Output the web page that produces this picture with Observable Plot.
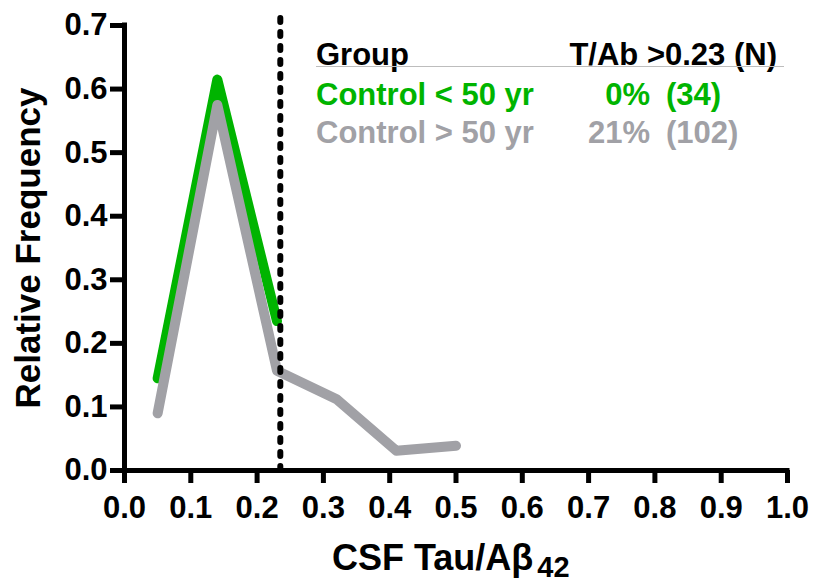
<!DOCTYPE html>
<html><head><meta charset="utf-8">
<script src="https://cdn.jsdelivr.net/npm/d3@7"></script>
<script src="https://cdn.jsdelivr.net/npm/@observablehq/plot@0.6"></script>
<style>
body{margin:0;background:#fff;}
#wrap{position:relative;width:817px;height:584px;overflow:hidden;font-family:"Liberation Sans",Arial,sans-serif;font-weight:bold;}
.t{position:absolute;white-space:nowrap;line-height:1;}
</style></head><body><div id="wrap"></div>
<script>
// ---- data ----
const binCenters = [0.05, 0.14, 0.23, 0.32, 0.41, 0.50];
const youngFreq = [0.145, 0.615, 0.235];
const oldFreq = [0.09, 0.575, 0.157, 0.112, 0.031, 0.039];
const cutoff = 0.235;
const groups = ["Control < 50 yr", "Control > 50 yr"];
const pctAbove = ["0%", "21%"];
const counts = ["(34)", "(102)"];
const colors = ["#00b400", "#a1a1a6"];
const xTicks = [0, 0.1, 0.2, 0.3, 0.4, 0.5, 0.6, 0.7, 0.8, 0.9, 1.0];
const yTicks = [0, 0.1, 0.2, 0.3, 0.4, 0.5, 0.6, 0.7];
const yTitle = "Relative Frequency";
const headers = ["Group", "T/Ab >0.23 (N)"];

const young = youngFreq.map((f, i) => ({x: binCenters[i], y: f}));
const old = oldFreq.map((f, i) => ({x: binCenters[i], y: f}));

const fmt = d3.format(".1f");
const chart = Plot.plot({
  width: 817, height: 584,
  marginLeft: 124, marginRight: 30, marginTop: 25, marginBottom: 114,
  x: {domain: [0, 1]},
  y: {domain: [0, 0.7]},
  style: {fontFamily: "Liberation Sans, Arial, sans-serif", fontWeight: "bold", color: "black", background: "white"},
  marks: [
    Plot.line(young, {x: "x", y: "y", stroke: colors[0], strokeWidth: 10}),
    Plot.line(old, {x: "x", y: "y", stroke: colors[1], strokeWidth: 10}),
    Plot.ruleX([cutoff], {y1: 0, y2: 0.715, stroke: "black", strokeWidth: 6, strokeDasharray: "4,10", strokeLinecap: "round"}),
    Plot.axisX({ticks: xTicks, tickFormat: fmt, tickSize: 13, tickPadding: 12, strokeWidth: 5, fontSize: 31, fontWeight: "bold", label: null}),
    Plot.axisY({ticks: yTicks, tickFormat: fmt, tickSize: 14, tickPadding: 3, strokeWidth: 5, fontSize: 31, fontWeight: "bold", label: null}),
    Plot.ruleY([0], {strokeWidth: 5, strokeLinecap: "square"}),
    Plot.ruleX([0], {strokeWidth: 5, strokeLinecap: "square"}),
    Plot.text([yTitle], {frameAnchor: "left", textAnchor: "middle", rotate: -90, dx: -96, fontSize: 35, fontWeight: "bold"})
  ]
});
const wrap = document.getElementById("wrap");
wrap.appendChild(chart);
chart.style.position = "absolute"; chart.style.left = "0"; chart.style.top = "0";

function addText(html, css) {
  const d = document.createElement("div");
  d.className = "t";
  d.innerHTML = html;
  Object.assign(d.style, css);
  wrap.appendChild(d);
  return d;
}
// x-axis title with subscript
addText('CSF Tau/A&beta;<span style="font-size:29px;line-height:1;position:relative;top:7px;margin-left:4px">42</span>',
  {left: "332px", top: "540px", fontSize: "36px", color: "black"});

// legend table
const lf = "31px";
addText(headers[0], {left: "316px", top: "39px", fontSize: lf, color: "black"});
addText(headers[1], {right: (817 - 777) + "px", top: "39px", fontSize: lf, color: "black"});
const ul = document.createElement("div");
Object.assign(ul.style, {position: "absolute", left: "316px", top: "66px", width: "468px", height: "1px", background: "#bdbdbd"});
wrap.appendChild(ul);
const rowTops = [79, 117];
groups.forEach((g, i) => {
  addText(g, {left: "316px", top: rowTops[i] + "px", fontSize: lf, color: colors[i]});
  addText(pctAbove[i], {right: (817 - 650) + "px", top: rowTops[i] + "px", fontSize: lf, color: colors[i]});
  addText(counts[i], {left: "666px", top: rowTops[i] + "px", fontSize: lf, color: colors[i]});
});
</script></body></html>
